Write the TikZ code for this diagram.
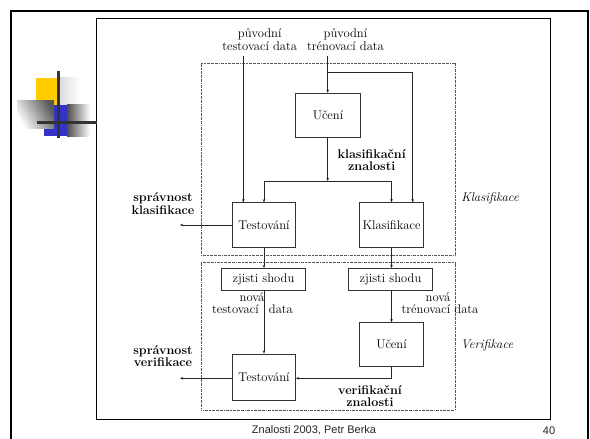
\documentclass[tikz,border=0pt]{standalone}
\usepackage{fontspec}
\newfontfamily\footfont{Liberation Sans}
\usetikzlibrary{arrows.meta}
\newcommand\lblfont{\fontsize{12.6}{12.8}\selectfont}
\begin{document}
\begin{tikzpicture}[x=1pt,y=-1pt,
  box/.style={draw=black!80, line width=0.7pt, inner sep=0pt, font=\lblfont, fill=white},
  arr/.style={-{Stealth[length=3.2pt,width=2.6pt]}, line width=0.6pt, draw=black!85},
  ln/.style={line width=0.6pt, draw=black!85},
  grp/.style={draw=black!65, line width=0.6pt, dash pattern=on 2pt off 0.8pt on 0.6pt off 0.8pt},
  lbl/.style={font=\lblfont, align=center, inner sep=0pt},
  blbl/.style={font=\lblfont\bfseries, align=center, inner sep=0pt},
  ilbl/.style={font=\lblfont\itshape, inner sep=0pt}]
\useasboundingbox (0,0) rectangle (590,439);
\fill[white] (0,0) rectangle (590,439);
% slide frame
\draw[line width=2pt] (11,445) -- (11,11) -- (588,11) -- (588,445);
% inner picture frame
\draw[line width=0.9pt] (96.5,18) rectangle (550.5,419.5);
% logo
\fill[left color=gray!30, right color=white] (58,77.7) rectangle (80,105);
\fill[fill={rgb,255:red,255;green,204;blue,0}] (36,77.7) rectangle (58,105);
\fill[left color=black!70, right color=white] (67,104) rectangle (90,136);
\fill[fill={rgb,255:red,51;green,51;blue,204}] (44,105) rectangle (67,136);
\fill[shading=axis, top color=black!65, bottom color=white, shading angle=-60] (17,100) rectangle (54,128);
\draw[line width=2.6pt, draw=black!80] (58.7,71) -- (58.7,138);
\draw[line width=2.6pt, draw=black!80] (37,122.3) -- (96.5,122.3);
% group boxes
\draw[grp] (201,63.5) rectangle (455,255);
\draw[grp] (201,262.5) rectangle (455,410);
% nodes
\node[box, minimum width=65pt, minimum height=44pt] (ucA) at (328,115.2) {Učení};
\node[box, minimum width=63pt, minimum height=44.6pt] (testA) at (264,225) {Testování};
\node[box, minimum width=64pt, minimum height=44.6pt] (klas) at (391.5,225) {Klasifikace};
\node[box, minimum width=84pt, minimum height=21.7pt] (zjA) at (263.5,279.2) {zjisti shodu};
\node[box, minimum width=84.4pt, minimum height=21.7pt] (zjB) at (390.5,279.2) {zjisti shodu};
\node[box, minimum width=64pt, minimum height=44pt] (ucB) at (391.5,344.7) {Učení};
\node[box, minimum width=63pt, minimum height=46pt] (testB) at (264,377) {Testování};
% free ends
\coordinate (inT) at (243.3,56);
\coordinate (inR) at (327.7,56);
\coordinate (brR) at (412.7,72.7);
\coordinate (jn) at (327.7,181);
\coordinate (outA) at (180,225);
\coordinate (outB) at (180,378.3);
% connectors
\draw[arr] (inT) -- (inT |- testA.north);
\draw[arr] (inR) -- (inR |- ucA.north);
\draw[ln] (inR |- brR) -- (brR);
\draw[arr] (brR) -- (brR |- klas.north);
\draw[arr] (ucA.south -| jn) -- (jn);
\draw[ln] (jn -| testA) -- (jn -| klas);
\draw[arr] (jn -| testA) -- (testA.north);
\draw[arr] (jn -| klas) -- (klas.north);
\draw[arr] (testA.west) -- (outA);
\draw[arr] (testA.south) -- (testA.south |- zjA.north);
\draw[arr] (klas.south) -- (klas.south |- zjB.north);
\draw[arr] (zjA.south -| testB) -- (testB.north);
\draw[arr] (zjB.south -| ucB) -- (ucB.north);
\draw[arr] (ucB.south) -- (ucB.south |- outB) -- (testB.east |- outB);
\draw[arr] (testB.west |- outB) -- (outB);
% labels
\node[lbl] (l1) at (259.7,40) {původní\\testovací data};
\node[lbl] (l2) at (345.5,40) {původní\\trénovací data};
\node[blbl] (l3) at (371.7,160) {klasifikační\\znalosti};
\node[blbl] (l4) at (163,204) {správnost\\klasifikace};
\node[ilbl] (l5) at (490,198) {Klasifikace};
\node[lbl] (l6) at (252,297) {nová};
\node[lbl] (l7) at (252.5,309) {testovací\hspace{6pt} data};
\node[lbl] (l8) at (438,297) {nová};
\node[lbl] (l9) at (440,309) {trénovací data};
\node[blbl] (l10) at (163,356) {správnost\\verifikace};
\node[blbl] (l11) at (370,396) {verifikační\\znalosti};
\node[ilbl] (l12) at (487,345) {Verifikace};
% footer
\node[font=\footfont\fontsize{11}{13}\selectfont, text=black!85, inner sep=0pt] (ft) at (314,430.5) {Znalosti 2003, Petr Berka};
\node[font=\footfont\fontsize{11}{13}\selectfont, text=black!85, inner sep=0pt] (pg) at (549,430.5) {40};
\end{tikzpicture}
\end{document}
